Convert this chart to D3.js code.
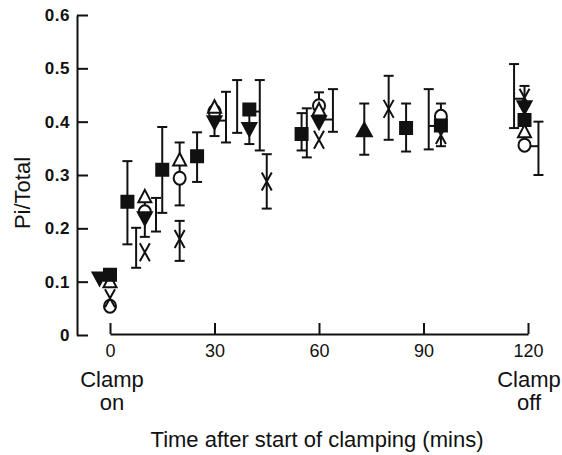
<!DOCTYPE html>
<html>
<head>
<meta charset="utf-8">
<script src="https://cdn.jsdelivr.net/npm/d3@7"></script>
<style>
body { margin: 0; background: #fff; }
svg { display: block; background: #fff; font-family: "Liberation Sans", Arial, Helvetica, sans-serif; }
</style>
</head>
<body>
<svg width="562" height="455"></svg>
<script>
// rows: [time (mins), Pi/Total, bar low, bar high, time the bar sits at, value of link line]
var filledSquare = [
    [0, 0.113, null, null, null, null],
    [5, 0.25, 0.17, 0.326, 5, null],
    [15, 0.31, 0.229, 0.39, 15, null],
    [25, 0.335, 0.287, 0.38, 25, null],
    [40, 0.423, 0.346, 0.478, 43, 0.419],
    [55, 0.377, 0.346, 0.416, 55, null],
    [85, 0.388, 0.344, 0.434, 85, null],
    [95, 0.393, 0.348, 0.461, 91.5, 0.392],
    [119, 0.403, null, null, null, null]
];
var openTriangle = [
    [0, 0.10, null, null, null, null],
    [10, 0.259, null, null, null, null],
    [20, 0.328, null, null, null, null],
    [30, 0.427, 0.379, 0.478, 36.5, null],
    [60, 0.422, null, null, null, null],
    [119, 0.381, null, null, null, null]
];
var openCircle = [
    [0, 0.054, null, null, null, null],
    [10, 0.231, 0.194, 0.257, 13.2, null],
    [20, 0.294, 0.243, 0.361, 20, null],
    [30, 0.419, 0.361, 0.456, 33.3, 0.402],
    [60, 0.43, 0.405, 0.455, 60, null],
    [95, 0.41, 0.354, 0.434, 95, null],
    [119, 0.356, 0.30, 0.40, 123, 0.354]
];
var filledDown = [
    [-3, 0.107, null, null, null, null],
    [10, 0.22, 0.184, 0.256, 10, null],
    [30, 0.40, 0.373, 0.427, 30, null],
    [40, 0.387, 0.358, 0.416, 40, null],
    [60, 0.40, 0.381, 0.461, 64, 0.404],
    [119, 0.428, 0.40, 0.467, 119, null]
];
var cross = [
    [0, 0.069, null, null, null, null],
    [10, 0.155, 0.126, 0.201, 7.5, null],
    [20, 0.18, 0.139, 0.214, 20, null],
    [45, 0.288, 0.237, 0.339, 45, null],
    [60, 0.366, 0.333, 0.425, 56.5, null],
    [80, 0.424, 0.366, 0.486, 80, null],
    [95, 0.375, null, null, null, null],
    [119, 0.445, 0.388, 0.508, 116, 0.443]
];
var filledUp = [
    [73, 0.384, 0.338, 0.434, 73, null]
];
var xTicks = [0, 30, 60, 90, 120];
var yTicks = [0, 0.1, 0.2, 0.3, 0.4, 0.5, 0.6];

var ink = "#111";
var chart = d3.select('svg');

var x = d3.scaleLinear().domain([0, 120]).range([110, 528]);
var y = d3.scaleLinear().domain([0, 0.6]).range([335, 15]);

// axes - ticks point inwards
var xAxis = d3.axisBottom(x).tickValues(xTicks).tickSizeInner(-11).tickSizeOuter(0).tickPadding(10);
var xg = chart.append("g")
    .attr("transform", "translate(0,334)")
    .call(xAxis);
xg.selectAll("text").attr("font-size", "18px");

var yAxis = d3.axisLeft(y).tickValues(yTicks).tickSizeInner(-11).tickSizeOuter(0).tickPadding(7)
    .tickFormat(function (d) { return d === 0 ? "0" : d.toFixed(1); });
var yg = chart.append("g")
    .attr("transform", "translate(77,0)")
    .call(yAxis);
yg.selectAll("text").attr("font-size", "17px").attr("font-weight", "bold").attr("letter-spacing", "0.5px");

chart.selectAll(".domain, .tick line").attr("stroke", ink).attr("stroke-width", 2);
chart.selectAll(".tick text").attr("fill", ink).attr("font-family", null);
xg.attr("font-family", null);
yg.attr("font-family", null);

// labels
chart.append("text").attr("x", 112).attr("y", 387).attr("text-anchor", "middle")
    .attr("font-size", "22px").attr("fill", ink).text("Clamp");
chart.append("text").attr("x", 112).attr("y", 410).attr("text-anchor", "middle")
    .attr("font-size", "22px").attr("fill", ink).text("on");
chart.append("text").attr("x", 529).attr("y", 387).attr("text-anchor", "middle")
    .attr("font-size", "22px").attr("fill", ink).text("Clamp");
chart.append("text").attr("x", 529).attr("y", 410).attr("text-anchor", "middle")
    .attr("font-size", "22px").attr("fill", ink).text("off");
chart.append("text").attr("x", 317).attr("y", 447).attr("text-anchor", "middle")
    .attr("font-size", "22px").attr("fill", ink).text("Time after start of clamping (mins)");
chart.append("text").attr("transform", "translate(30,193) rotate(-90)").attr("text-anchor", "middle")
    .attr("font-size", "22px").attr("fill", ink).text("Pi/Total");

// error bars first, markers go on top
var all = [filledSquare, openTriangle, openCircle, filledDown, cross, filledUp];
var barG = chart.append("g").attr("stroke", ink).attr("stroke-width", 2);
all.forEach(function (series) {
    series.forEach(function (r) {
        if (r[2] === null) return;
        var bx = x(r[4]);
        barG.append("line").attr("x1", bx).attr("x2", bx).attr("y1", y(r[2])).attr("y2", y(r[3]));
        barG.append("line").attr("x1", bx - 5).attr("x2", bx + 5).attr("y1", y(r[2])).attr("y2", y(r[2]));
        barG.append("line").attr("x1", bx - 5).attr("x2", bx + 5).attr("y1", y(r[3])).attr("y2", y(r[3]));
        if (r[5] !== null) {
            barG.append("line").attr("x1", x(r[0])).attr("x2", bx).attr("y1", y(r[5])).attr("y2", y(r[5]));
        }
    });
});

function markers(series, path, filled) {
    chart.append("g").selectAll("path")
        .data(series)
        .enter()
        .append("path")
        .attr("d", path)
        .attr("transform", function (d) { return "translate(" + x(d[0]) + "," + y(d[1]) + ")"; })
        .attr("fill", filled ? ink : "#fff")
        .attr("stroke", ink)
        .attr("stroke-width", 2)
        .attr("stroke-linejoin", "miter");
}

markers(openCircle, "M-6,0a6,6.5 0 1,0 12,0a6,6.5 0 1,0 -12,0Z", false);
markers(openTriangle, "M0,-7L6.5,5.5L-6.5,5.5Z", false);
markers(cross, "M-5,-9L5,9M5,-9L-5,9", false);
markers(filledDown, "M-7,-5.5L7,-5.5L0,7.5Z", true);
markers(filledSquare, "M-6,-6H6V6H-6Z", true);
markers(filledUp, "M0,-7.5L7.5,6L-7.5,6Z", true);
</script>
</body>
</html>
